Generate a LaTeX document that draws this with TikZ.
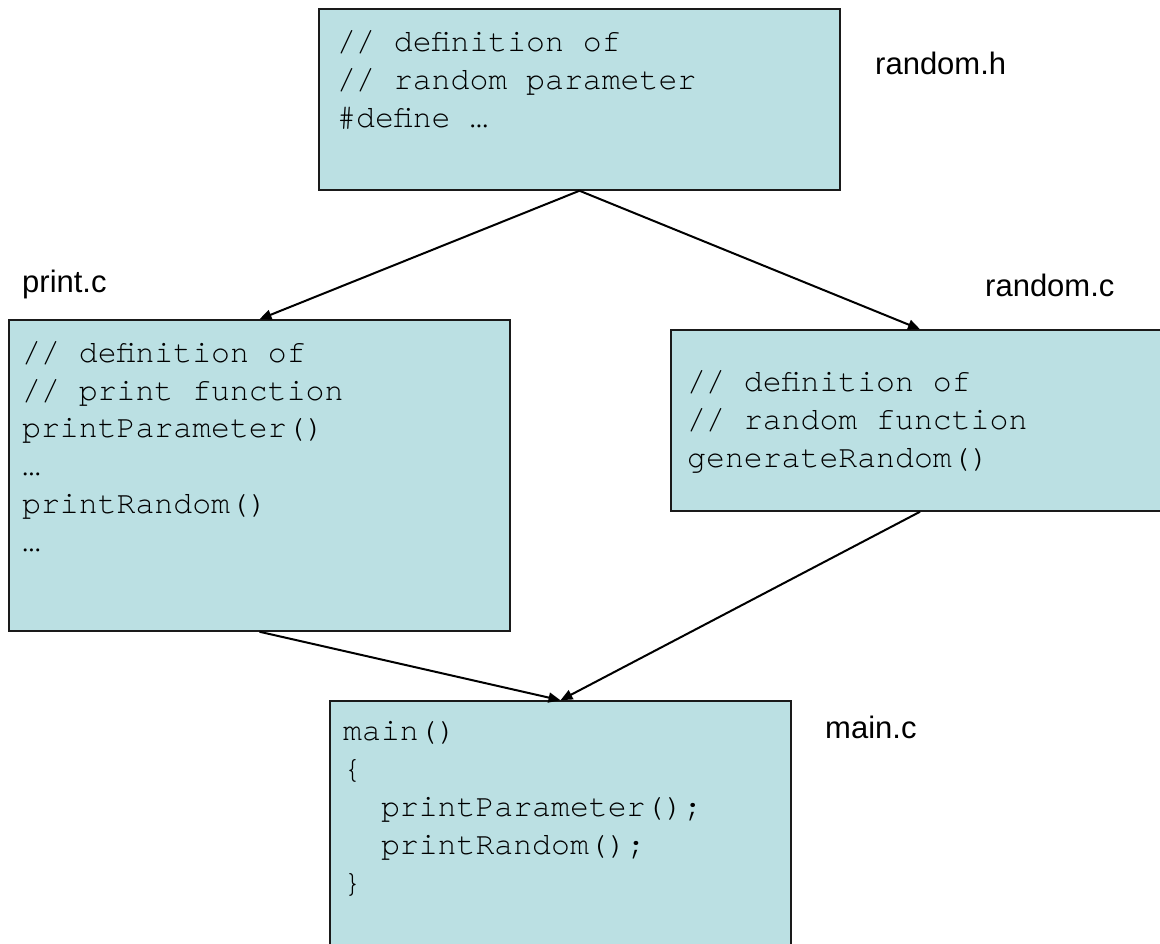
\documentclass[tikz,border=0pt]{standalone}
\usepackage{fontspec}
\setmainfont{Liberation Sans}
\newfontfamily\codefont{TeX Gyre Cursor}
\usetikzlibrary{arrows.meta}
\definecolor{boxfill}{RGB}{187,224,227}
\definecolor{boxline}{RGB}{26,26,26}
\tikzset{
  filebox/.style={draw=boxline, line width=1.5pt, fill=boxfill, rectangle, inner sep=0pt},
  codetext/.style={anchor=base west, inner sep=0pt, font=\codefont\fontsize{31.5}{38}\selectfont},
  filelabel/.style={anchor=base west, inner sep=0pt, font=\fontsize{31}{37}\selectfont},
  arr/.style={line width=2pt, draw=black, -{Triangle[length=12pt,width=10pt]}}
}
\newcommand{\codelines}[1]{\begin{tabular}[t]{@{}l@{}}#1\end{tabular}}
\begin{document}
\begin{tikzpicture}[x=1pt,y=-1pt]
\useasboundingbox (0,0) rectangle (1160,944);
% boxes
\node[filebox, minimum width=521pt, minimum height=181pt] (rh) at (579.5,99.5) {};
\node[filebox, minimum width=501pt, minimum height=311pt] (pc) at (259.5,475.5) {};
\node[filebox, minimum width=498pt, minimum height=181pt] (rc) at (920,420.5) {};
\node[filebox, minimum width=461pt, minimum height=270pt] (mn) at (560.5,836) {};
% code
\node[codetext] (rhtext) at (337,52) {\codelines{// definition of\\// random parameter\\\#define …}};
\node[codetext] (pctext) at (22,362) {\codelines{// definition of\\// print function\\printParameter()\\…\\printRandom()\\…}};
\node[codetext] (rctext) at (687,391) {\codelines{// definition of\\// random function\\generateRandom()}};
\node[codetext] (mntext) at (343,740) {\codelines{main()\\\{\\\phantom{xx}printParameter();\\\phantom{xx}printRandom();\\\}}};
% labels
\node[filelabel] (rhlabel) at (875,75) {random.h};
\node[filelabel] (pclabel) at (22,293) {print.c};
\node[filelabel] (rclabel) at (985,297) {random.c};
\node[filelabel] (mnlabel) at (825,738) {main.c};
% connectors
\draw[arr] (rh.south) -- (pc.north);
\draw[arr] (rh.south) -- (rc.north);
\draw[arr] (pc.south) -- (mn.north);
\draw[arr] (rc.south) -- (mn.north);
\end{tikzpicture}
\end{document}
